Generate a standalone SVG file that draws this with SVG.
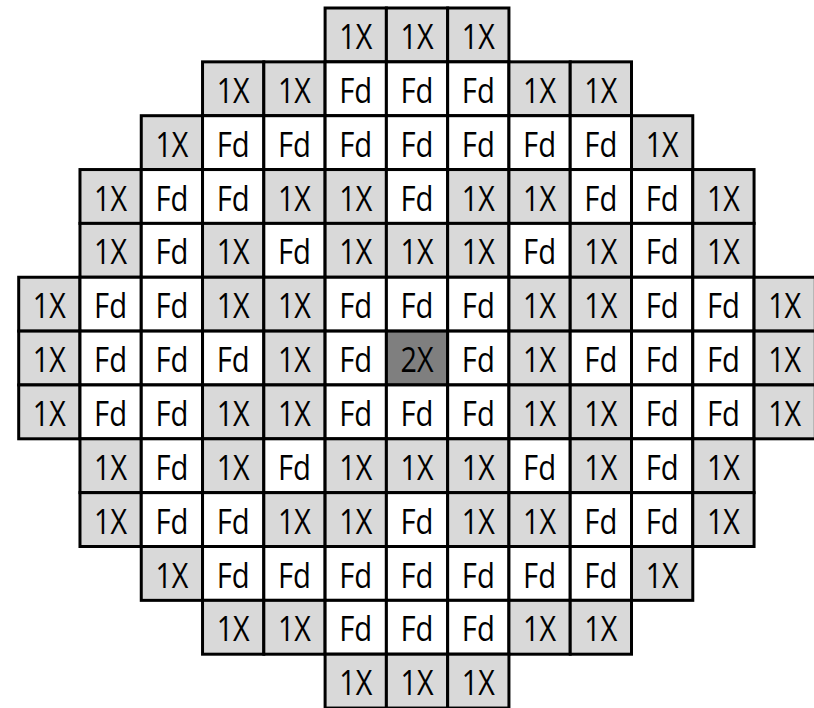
<svg xmlns="http://www.w3.org/2000/svg" width="814" height="708" viewBox="0 0 814 708">
<style>
rect{stroke:#000;stroke-width:3}
.x rect{fill:#d9d9d9}
.f rect{fill:#fff}
.d rect{fill:#7f7f7f}
text{font-family:"Open Sans","Noto Sans","Liberation Sans",sans-serif;font-size:34px;fill:#000;text-anchor:middle}
</style>
<rect x="0" y="0" width="814" height="708" style="fill:#fff;stroke:none"/>
<g id="grid">
<!-- row 0 -->
<g id="r0c5" class="x" transform="translate(325.1,8)"><rect width="61.28" height="53.85"/><text x="30.64" y="41" textLength="33" lengthAdjust="spacingAndGlyphs">1X</text></g>
<g id="r0c6" class="x" transform="translate(386.38,8)"><rect width="61.28" height="53.85"/><text x="30.64" y="41" textLength="33" lengthAdjust="spacingAndGlyphs">1X</text></g>
<g id="r0c7" class="x" transform="translate(447.66,8)"><rect width="61.28" height="53.85"/><text x="30.64" y="41" textLength="33" lengthAdjust="spacingAndGlyphs">1X</text></g>
<!-- row 1 -->
<g id="r1c3" class="x" transform="translate(202.54,61.85)"><rect width="61.28" height="53.85"/><text x="30.64" y="41" textLength="33" lengthAdjust="spacingAndGlyphs">1X</text></g>
<g id="r1c4" class="x" transform="translate(263.82,61.85)"><rect width="61.28" height="53.85"/><text x="30.64" y="41" textLength="33" lengthAdjust="spacingAndGlyphs">1X</text></g>
<g id="r1c5" class="f" transform="translate(325.1,61.85)"><rect width="61.28" height="53.85"/><text x="30.64" y="41" textLength="33" lengthAdjust="spacingAndGlyphs">Fd</text></g>
<g id="r1c6" class="f" transform="translate(386.38,61.85)"><rect width="61.28" height="53.85"/><text x="30.64" y="41" textLength="33" lengthAdjust="spacingAndGlyphs">Fd</text></g>
<g id="r1c7" class="f" transform="translate(447.66,61.85)"><rect width="61.28" height="53.85"/><text x="30.64" y="41" textLength="33" lengthAdjust="spacingAndGlyphs">Fd</text></g>
<g id="r1c8" class="x" transform="translate(508.94,61.85)"><rect width="61.28" height="53.85"/><text x="30.64" y="41" textLength="33" lengthAdjust="spacingAndGlyphs">1X</text></g>
<g id="r1c9" class="x" transform="translate(570.22,61.85)"><rect width="61.28" height="53.85"/><text x="30.64" y="41" textLength="33" lengthAdjust="spacingAndGlyphs">1X</text></g>
<!-- row 2 -->
<g id="r2c2" class="x" transform="translate(141.26,115.7)"><rect width="61.28" height="53.85"/><text x="30.64" y="41" textLength="33" lengthAdjust="spacingAndGlyphs">1X</text></g>
<g id="r2c3" class="f" transform="translate(202.54,115.7)"><rect width="61.28" height="53.85"/><text x="30.64" y="41" textLength="33" lengthAdjust="spacingAndGlyphs">Fd</text></g>
<g id="r2c4" class="f" transform="translate(263.82,115.7)"><rect width="61.28" height="53.85"/><text x="30.64" y="41" textLength="33" lengthAdjust="spacingAndGlyphs">Fd</text></g>
<g id="r2c5" class="f" transform="translate(325.1,115.7)"><rect width="61.28" height="53.85"/><text x="30.64" y="41" textLength="33" lengthAdjust="spacingAndGlyphs">Fd</text></g>
<g id="r2c6" class="f" transform="translate(386.38,115.7)"><rect width="61.28" height="53.85"/><text x="30.64" y="41" textLength="33" lengthAdjust="spacingAndGlyphs">Fd</text></g>
<g id="r2c7" class="f" transform="translate(447.66,115.7)"><rect width="61.28" height="53.85"/><text x="30.64" y="41" textLength="33" lengthAdjust="spacingAndGlyphs">Fd</text></g>
<g id="r2c8" class="f" transform="translate(508.94,115.7)"><rect width="61.28" height="53.85"/><text x="30.64" y="41" textLength="33" lengthAdjust="spacingAndGlyphs">Fd</text></g>
<g id="r2c9" class="f" transform="translate(570.22,115.7)"><rect width="61.28" height="53.85"/><text x="30.64" y="41" textLength="33" lengthAdjust="spacingAndGlyphs">Fd</text></g>
<g id="r2c10" class="x" transform="translate(631.5,115.7)"><rect width="61.28" height="53.85"/><text x="30.64" y="41" textLength="33" lengthAdjust="spacingAndGlyphs">1X</text></g>
<!-- row 3 -->
<g id="r3c1" class="x" transform="translate(79.98,169.55)"><rect width="61.28" height="53.85"/><text x="30.64" y="41" textLength="33" lengthAdjust="spacingAndGlyphs">1X</text></g>
<g id="r3c2" class="f" transform="translate(141.26,169.55)"><rect width="61.28" height="53.85"/><text x="30.64" y="41" textLength="33" lengthAdjust="spacingAndGlyphs">Fd</text></g>
<g id="r3c3" class="f" transform="translate(202.54,169.55)"><rect width="61.28" height="53.85"/><text x="30.64" y="41" textLength="33" lengthAdjust="spacingAndGlyphs">Fd</text></g>
<g id="r3c4" class="x" transform="translate(263.82,169.55)"><rect width="61.28" height="53.85"/><text x="30.64" y="41" textLength="33" lengthAdjust="spacingAndGlyphs">1X</text></g>
<g id="r3c5" class="x" transform="translate(325.1,169.55)"><rect width="61.28" height="53.85"/><text x="30.64" y="41" textLength="33" lengthAdjust="spacingAndGlyphs">1X</text></g>
<g id="r3c6" class="f" transform="translate(386.38,169.55)"><rect width="61.28" height="53.85"/><text x="30.64" y="41" textLength="33" lengthAdjust="spacingAndGlyphs">Fd</text></g>
<g id="r3c7" class="x" transform="translate(447.66,169.55)"><rect width="61.28" height="53.85"/><text x="30.64" y="41" textLength="33" lengthAdjust="spacingAndGlyphs">1X</text></g>
<g id="r3c8" class="x" transform="translate(508.94,169.55)"><rect width="61.28" height="53.85"/><text x="30.64" y="41" textLength="33" lengthAdjust="spacingAndGlyphs">1X</text></g>
<g id="r3c9" class="f" transform="translate(570.22,169.55)"><rect width="61.28" height="53.85"/><text x="30.64" y="41" textLength="33" lengthAdjust="spacingAndGlyphs">Fd</text></g>
<g id="r3c10" class="f" transform="translate(631.5,169.55)"><rect width="61.28" height="53.85"/><text x="30.64" y="41" textLength="33" lengthAdjust="spacingAndGlyphs">Fd</text></g>
<g id="r3c11" class="x" transform="translate(692.78,169.55)"><rect width="61.28" height="53.85"/><text x="30.64" y="41" textLength="33" lengthAdjust="spacingAndGlyphs">1X</text></g>
<!-- row 4 -->
<g id="r4c1" class="x" transform="translate(79.98,223.4)"><rect width="61.28" height="53.85"/><text x="30.64" y="41" textLength="33" lengthAdjust="spacingAndGlyphs">1X</text></g>
<g id="r4c2" class="f" transform="translate(141.26,223.4)"><rect width="61.28" height="53.85"/><text x="30.64" y="41" textLength="33" lengthAdjust="spacingAndGlyphs">Fd</text></g>
<g id="r4c3" class="x" transform="translate(202.54,223.4)"><rect width="61.28" height="53.85"/><text x="30.64" y="41" textLength="33" lengthAdjust="spacingAndGlyphs">1X</text></g>
<g id="r4c4" class="f" transform="translate(263.82,223.4)"><rect width="61.28" height="53.85"/><text x="30.64" y="41" textLength="33" lengthAdjust="spacingAndGlyphs">Fd</text></g>
<g id="r4c5" class="x" transform="translate(325.1,223.4)"><rect width="61.28" height="53.85"/><text x="30.64" y="41" textLength="33" lengthAdjust="spacingAndGlyphs">1X</text></g>
<g id="r4c6" class="x" transform="translate(386.38,223.4)"><rect width="61.28" height="53.85"/><text x="30.64" y="41" textLength="33" lengthAdjust="spacingAndGlyphs">1X</text></g>
<g id="r4c7" class="x" transform="translate(447.66,223.4)"><rect width="61.28" height="53.85"/><text x="30.64" y="41" textLength="33" lengthAdjust="spacingAndGlyphs">1X</text></g>
<g id="r4c8" class="f" transform="translate(508.94,223.4)"><rect width="61.28" height="53.85"/><text x="30.64" y="41" textLength="33" lengthAdjust="spacingAndGlyphs">Fd</text></g>
<g id="r4c9" class="x" transform="translate(570.22,223.4)"><rect width="61.28" height="53.85"/><text x="30.64" y="41" textLength="33" lengthAdjust="spacingAndGlyphs">1X</text></g>
<g id="r4c10" class="f" transform="translate(631.5,223.4)"><rect width="61.28" height="53.85"/><text x="30.64" y="41" textLength="33" lengthAdjust="spacingAndGlyphs">Fd</text></g>
<g id="r4c11" class="x" transform="translate(692.78,223.4)"><rect width="61.28" height="53.85"/><text x="30.64" y="41" textLength="33" lengthAdjust="spacingAndGlyphs">1X</text></g>
<!-- row 5 -->
<g id="r5c0" class="x" transform="translate(18.7,277.25)"><rect width="61.28" height="53.85"/><text x="30.64" y="41" textLength="33" lengthAdjust="spacingAndGlyphs">1X</text></g>
<g id="r5c1" class="f" transform="translate(79.98,277.25)"><rect width="61.28" height="53.85"/><text x="30.64" y="41" textLength="33" lengthAdjust="spacingAndGlyphs">Fd</text></g>
<g id="r5c2" class="f" transform="translate(141.26,277.25)"><rect width="61.28" height="53.85"/><text x="30.64" y="41" textLength="33" lengthAdjust="spacingAndGlyphs">Fd</text></g>
<g id="r5c3" class="x" transform="translate(202.54,277.25)"><rect width="61.28" height="53.85"/><text x="30.64" y="41" textLength="33" lengthAdjust="spacingAndGlyphs">1X</text></g>
<g id="r5c4" class="x" transform="translate(263.82,277.25)"><rect width="61.28" height="53.85"/><text x="30.64" y="41" textLength="33" lengthAdjust="spacingAndGlyphs">1X</text></g>
<g id="r5c5" class="f" transform="translate(325.1,277.25)"><rect width="61.28" height="53.85"/><text x="30.64" y="41" textLength="33" lengthAdjust="spacingAndGlyphs">Fd</text></g>
<g id="r5c6" class="f" transform="translate(386.38,277.25)"><rect width="61.28" height="53.85"/><text x="30.64" y="41" textLength="33" lengthAdjust="spacingAndGlyphs">Fd</text></g>
<g id="r5c7" class="f" transform="translate(447.66,277.25)"><rect width="61.28" height="53.85"/><text x="30.64" y="41" textLength="33" lengthAdjust="spacingAndGlyphs">Fd</text></g>
<g id="r5c8" class="x" transform="translate(508.94,277.25)"><rect width="61.28" height="53.85"/><text x="30.64" y="41" textLength="33" lengthAdjust="spacingAndGlyphs">1X</text></g>
<g id="r5c9" class="x" transform="translate(570.22,277.25)"><rect width="61.28" height="53.85"/><text x="30.64" y="41" textLength="33" lengthAdjust="spacingAndGlyphs">1X</text></g>
<g id="r5c10" class="f" transform="translate(631.5,277.25)"><rect width="61.28" height="53.85"/><text x="30.64" y="41" textLength="33" lengthAdjust="spacingAndGlyphs">Fd</text></g>
<g id="r5c11" class="f" transform="translate(692.78,277.25)"><rect width="61.28" height="53.85"/><text x="30.64" y="41" textLength="33" lengthAdjust="spacingAndGlyphs">Fd</text></g>
<g id="r5c12" class="x" transform="translate(754.06,277.25)"><rect width="61.28" height="53.85"/><text x="30.64" y="41" textLength="33" lengthAdjust="spacingAndGlyphs">1X</text></g>
<!-- row 6 -->
<g id="r6c0" class="x" transform="translate(18.7,331.1)"><rect width="61.28" height="53.85"/><text x="30.64" y="41" textLength="33" lengthAdjust="spacingAndGlyphs">1X</text></g>
<g id="r6c1" class="f" transform="translate(79.98,331.1)"><rect width="61.28" height="53.85"/><text x="30.64" y="41" textLength="33" lengthAdjust="spacingAndGlyphs">Fd</text></g>
<g id="r6c2" class="f" transform="translate(141.26,331.1)"><rect width="61.28" height="53.85"/><text x="30.64" y="41" textLength="33" lengthAdjust="spacingAndGlyphs">Fd</text></g>
<g id="r6c3" class="f" transform="translate(202.54,331.1)"><rect width="61.28" height="53.85"/><text x="30.64" y="41" textLength="33" lengthAdjust="spacingAndGlyphs">Fd</text></g>
<g id="r6c4" class="x" transform="translate(263.82,331.1)"><rect width="61.28" height="53.85"/><text x="30.64" y="41" textLength="33" lengthAdjust="spacingAndGlyphs">1X</text></g>
<g id="r6c5" class="f" transform="translate(325.1,331.1)"><rect width="61.28" height="53.85"/><text x="30.64" y="41" textLength="33" lengthAdjust="spacingAndGlyphs">Fd</text></g>
<g id="r6c6" class="d" transform="translate(386.38,331.1)"><rect width="61.28" height="53.85"/><text x="30.64" y="41" textLength="33" lengthAdjust="spacingAndGlyphs">2X</text></g>
<g id="r6c7" class="f" transform="translate(447.66,331.1)"><rect width="61.28" height="53.85"/><text x="30.64" y="41" textLength="33" lengthAdjust="spacingAndGlyphs">Fd</text></g>
<g id="r6c8" class="x" transform="translate(508.94,331.1)"><rect width="61.28" height="53.85"/><text x="30.64" y="41" textLength="33" lengthAdjust="spacingAndGlyphs">1X</text></g>
<g id="r6c9" class="f" transform="translate(570.22,331.1)"><rect width="61.28" height="53.85"/><text x="30.64" y="41" textLength="33" lengthAdjust="spacingAndGlyphs">Fd</text></g>
<g id="r6c10" class="f" transform="translate(631.5,331.1)"><rect width="61.28" height="53.85"/><text x="30.64" y="41" textLength="33" lengthAdjust="spacingAndGlyphs">Fd</text></g>
<g id="r6c11" class="f" transform="translate(692.78,331.1)"><rect width="61.28" height="53.85"/><text x="30.64" y="41" textLength="33" lengthAdjust="spacingAndGlyphs">Fd</text></g>
<g id="r6c12" class="x" transform="translate(754.06,331.1)"><rect width="61.28" height="53.85"/><text x="30.64" y="41" textLength="33" lengthAdjust="spacingAndGlyphs">1X</text></g>
<!-- row 7 -->
<g id="r7c0" class="x" transform="translate(18.7,384.95)"><rect width="61.28" height="53.85"/><text x="30.64" y="41" textLength="33" lengthAdjust="spacingAndGlyphs">1X</text></g>
<g id="r7c1" class="f" transform="translate(79.98,384.95)"><rect width="61.28" height="53.85"/><text x="30.64" y="41" textLength="33" lengthAdjust="spacingAndGlyphs">Fd</text></g>
<g id="r7c2" class="f" transform="translate(141.26,384.95)"><rect width="61.28" height="53.85"/><text x="30.64" y="41" textLength="33" lengthAdjust="spacingAndGlyphs">Fd</text></g>
<g id="r7c3" class="x" transform="translate(202.54,384.95)"><rect width="61.28" height="53.85"/><text x="30.64" y="41" textLength="33" lengthAdjust="spacingAndGlyphs">1X</text></g>
<g id="r7c4" class="x" transform="translate(263.82,384.95)"><rect width="61.28" height="53.85"/><text x="30.64" y="41" textLength="33" lengthAdjust="spacingAndGlyphs">1X</text></g>
<g id="r7c5" class="f" transform="translate(325.1,384.95)"><rect width="61.28" height="53.85"/><text x="30.64" y="41" textLength="33" lengthAdjust="spacingAndGlyphs">Fd</text></g>
<g id="r7c6" class="f" transform="translate(386.38,384.95)"><rect width="61.28" height="53.85"/><text x="30.64" y="41" textLength="33" lengthAdjust="spacingAndGlyphs">Fd</text></g>
<g id="r7c7" class="f" transform="translate(447.66,384.95)"><rect width="61.28" height="53.85"/><text x="30.64" y="41" textLength="33" lengthAdjust="spacingAndGlyphs">Fd</text></g>
<g id="r7c8" class="x" transform="translate(508.94,384.95)"><rect width="61.28" height="53.85"/><text x="30.64" y="41" textLength="33" lengthAdjust="spacingAndGlyphs">1X</text></g>
<g id="r7c9" class="x" transform="translate(570.22,384.95)"><rect width="61.28" height="53.85"/><text x="30.64" y="41" textLength="33" lengthAdjust="spacingAndGlyphs">1X</text></g>
<g id="r7c10" class="f" transform="translate(631.5,384.95)"><rect width="61.28" height="53.85"/><text x="30.64" y="41" textLength="33" lengthAdjust="spacingAndGlyphs">Fd</text></g>
<g id="r7c11" class="f" transform="translate(692.78,384.95)"><rect width="61.28" height="53.85"/><text x="30.64" y="41" textLength="33" lengthAdjust="spacingAndGlyphs">Fd</text></g>
<g id="r7c12" class="x" transform="translate(754.06,384.95)"><rect width="61.28" height="53.85"/><text x="30.64" y="41" textLength="33" lengthAdjust="spacingAndGlyphs">1X</text></g>
<!-- row 8 -->
<g id="r8c1" class="x" transform="translate(79.98,438.8)"><rect width="61.28" height="53.85"/><text x="30.64" y="41" textLength="33" lengthAdjust="spacingAndGlyphs">1X</text></g>
<g id="r8c2" class="f" transform="translate(141.26,438.8)"><rect width="61.28" height="53.85"/><text x="30.64" y="41" textLength="33" lengthAdjust="spacingAndGlyphs">Fd</text></g>
<g id="r8c3" class="x" transform="translate(202.54,438.8)"><rect width="61.28" height="53.85"/><text x="30.64" y="41" textLength="33" lengthAdjust="spacingAndGlyphs">1X</text></g>
<g id="r8c4" class="f" transform="translate(263.82,438.8)"><rect width="61.28" height="53.85"/><text x="30.64" y="41" textLength="33" lengthAdjust="spacingAndGlyphs">Fd</text></g>
<g id="r8c5" class="x" transform="translate(325.1,438.8)"><rect width="61.28" height="53.85"/><text x="30.64" y="41" textLength="33" lengthAdjust="spacingAndGlyphs">1X</text></g>
<g id="r8c6" class="x" transform="translate(386.38,438.8)"><rect width="61.28" height="53.85"/><text x="30.64" y="41" textLength="33" lengthAdjust="spacingAndGlyphs">1X</text></g>
<g id="r8c7" class="x" transform="translate(447.66,438.8)"><rect width="61.28" height="53.85"/><text x="30.64" y="41" textLength="33" lengthAdjust="spacingAndGlyphs">1X</text></g>
<g id="r8c8" class="f" transform="translate(508.94,438.8)"><rect width="61.28" height="53.85"/><text x="30.64" y="41" textLength="33" lengthAdjust="spacingAndGlyphs">Fd</text></g>
<g id="r8c9" class="x" transform="translate(570.22,438.8)"><rect width="61.28" height="53.85"/><text x="30.64" y="41" textLength="33" lengthAdjust="spacingAndGlyphs">1X</text></g>
<g id="r8c10" class="f" transform="translate(631.5,438.8)"><rect width="61.28" height="53.85"/><text x="30.64" y="41" textLength="33" lengthAdjust="spacingAndGlyphs">Fd</text></g>
<g id="r8c11" class="x" transform="translate(692.78,438.8)"><rect width="61.28" height="53.85"/><text x="30.64" y="41" textLength="33" lengthAdjust="spacingAndGlyphs">1X</text></g>
<!-- row 9 -->
<g id="r9c1" class="x" transform="translate(79.98,492.65)"><rect width="61.28" height="53.85"/><text x="30.64" y="41" textLength="33" lengthAdjust="spacingAndGlyphs">1X</text></g>
<g id="r9c2" class="f" transform="translate(141.26,492.65)"><rect width="61.28" height="53.85"/><text x="30.64" y="41" textLength="33" lengthAdjust="spacingAndGlyphs">Fd</text></g>
<g id="r9c3" class="f" transform="translate(202.54,492.65)"><rect width="61.28" height="53.85"/><text x="30.64" y="41" textLength="33" lengthAdjust="spacingAndGlyphs">Fd</text></g>
<g id="r9c4" class="x" transform="translate(263.82,492.65)"><rect width="61.28" height="53.85"/><text x="30.64" y="41" textLength="33" lengthAdjust="spacingAndGlyphs">1X</text></g>
<g id="r9c5" class="x" transform="translate(325.1,492.65)"><rect width="61.28" height="53.85"/><text x="30.64" y="41" textLength="33" lengthAdjust="spacingAndGlyphs">1X</text></g>
<g id="r9c6" class="f" transform="translate(386.38,492.65)"><rect width="61.28" height="53.85"/><text x="30.64" y="41" textLength="33" lengthAdjust="spacingAndGlyphs">Fd</text></g>
<g id="r9c7" class="x" transform="translate(447.66,492.65)"><rect width="61.28" height="53.85"/><text x="30.64" y="41" textLength="33" lengthAdjust="spacingAndGlyphs">1X</text></g>
<g id="r9c8" class="x" transform="translate(508.94,492.65)"><rect width="61.28" height="53.85"/><text x="30.64" y="41" textLength="33" lengthAdjust="spacingAndGlyphs">1X</text></g>
<g id="r9c9" class="f" transform="translate(570.22,492.65)"><rect width="61.28" height="53.85"/><text x="30.64" y="41" textLength="33" lengthAdjust="spacingAndGlyphs">Fd</text></g>
<g id="r9c10" class="f" transform="translate(631.5,492.65)"><rect width="61.28" height="53.85"/><text x="30.64" y="41" textLength="33" lengthAdjust="spacingAndGlyphs">Fd</text></g>
<g id="r9c11" class="x" transform="translate(692.78,492.65)"><rect width="61.28" height="53.85"/><text x="30.64" y="41" textLength="33" lengthAdjust="spacingAndGlyphs">1X</text></g>
<!-- row 10 -->
<g id="r10c2" class="x" transform="translate(141.26,546.5)"><rect width="61.28" height="53.85"/><text x="30.64" y="41" textLength="33" lengthAdjust="spacingAndGlyphs">1X</text></g>
<g id="r10c3" class="f" transform="translate(202.54,546.5)"><rect width="61.28" height="53.85"/><text x="30.64" y="41" textLength="33" lengthAdjust="spacingAndGlyphs">Fd</text></g>
<g id="r10c4" class="f" transform="translate(263.82,546.5)"><rect width="61.28" height="53.85"/><text x="30.64" y="41" textLength="33" lengthAdjust="spacingAndGlyphs">Fd</text></g>
<g id="r10c5" class="f" transform="translate(325.1,546.5)"><rect width="61.28" height="53.85"/><text x="30.64" y="41" textLength="33" lengthAdjust="spacingAndGlyphs">Fd</text></g>
<g id="r10c6" class="f" transform="translate(386.38,546.5)"><rect width="61.28" height="53.85"/><text x="30.64" y="41" textLength="33" lengthAdjust="spacingAndGlyphs">Fd</text></g>
<g id="r10c7" class="f" transform="translate(447.66,546.5)"><rect width="61.28" height="53.85"/><text x="30.64" y="41" textLength="33" lengthAdjust="spacingAndGlyphs">Fd</text></g>
<g id="r10c8" class="f" transform="translate(508.94,546.5)"><rect width="61.28" height="53.85"/><text x="30.64" y="41" textLength="33" lengthAdjust="spacingAndGlyphs">Fd</text></g>
<g id="r10c9" class="f" transform="translate(570.22,546.5)"><rect width="61.28" height="53.85"/><text x="30.64" y="41" textLength="33" lengthAdjust="spacingAndGlyphs">Fd</text></g>
<g id="r10c10" class="x" transform="translate(631.5,546.5)"><rect width="61.28" height="53.85"/><text x="30.64" y="41" textLength="33" lengthAdjust="spacingAndGlyphs">1X</text></g>
<!-- row 11 -->
<g id="r11c3" class="x" transform="translate(202.54,600.35)"><rect width="61.28" height="53.85"/><text x="30.64" y="41" textLength="33" lengthAdjust="spacingAndGlyphs">1X</text></g>
<g id="r11c4" class="x" transform="translate(263.82,600.35)"><rect width="61.28" height="53.85"/><text x="30.64" y="41" textLength="33" lengthAdjust="spacingAndGlyphs">1X</text></g>
<g id="r11c5" class="f" transform="translate(325.1,600.35)"><rect width="61.28" height="53.85"/><text x="30.64" y="41" textLength="33" lengthAdjust="spacingAndGlyphs">Fd</text></g>
<g id="r11c6" class="f" transform="translate(386.38,600.35)"><rect width="61.28" height="53.85"/><text x="30.64" y="41" textLength="33" lengthAdjust="spacingAndGlyphs">Fd</text></g>
<g id="r11c7" class="f" transform="translate(447.66,600.35)"><rect width="61.28" height="53.85"/><text x="30.64" y="41" textLength="33" lengthAdjust="spacingAndGlyphs">Fd</text></g>
<g id="r11c8" class="x" transform="translate(508.94,600.35)"><rect width="61.28" height="53.85"/><text x="30.64" y="41" textLength="33" lengthAdjust="spacingAndGlyphs">1X</text></g>
<g id="r11c9" class="x" transform="translate(570.22,600.35)"><rect width="61.28" height="53.85"/><text x="30.64" y="41" textLength="33" lengthAdjust="spacingAndGlyphs">1X</text></g>
<!-- row 12 -->
<g id="r12c5" class="x" transform="translate(325.1,654.2)"><rect width="61.28" height="53.85"/><text x="30.64" y="41" textLength="33" lengthAdjust="spacingAndGlyphs">1X</text></g>
<g id="r12c6" class="x" transform="translate(386.38,654.2)"><rect width="61.28" height="53.85"/><text x="30.64" y="41" textLength="33" lengthAdjust="spacingAndGlyphs">1X</text></g>
<g id="r12c7" class="x" transform="translate(447.66,654.2)"><rect width="61.28" height="53.85"/><text x="30.64" y="41" textLength="33" lengthAdjust="spacingAndGlyphs">1X</text></g>
</g>
</svg>
